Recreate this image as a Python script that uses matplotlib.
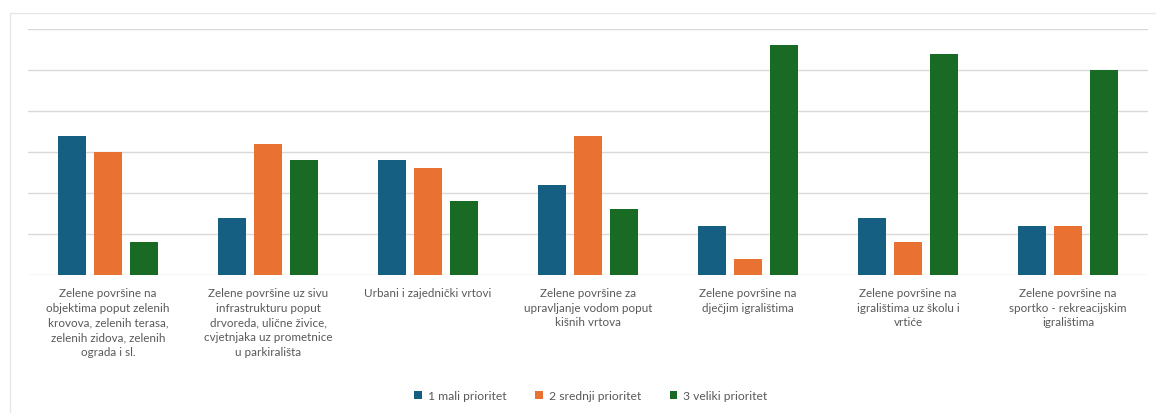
"""Priority ratings of green-space types, grouped bar chart."""
import matplotlib; matplotlib.use("Agg")
import matplotlib.pyplot as plt
import numpy as np
from matplotlib.patches import Rectangle

plt.rcParams["font.family"] = ["Lato", "DejaVu Sans"]

CATEGORIES = [
    "Zelene površine na\nobjektima poput zelenih\nkrovova, zelenih terasa,\nzelenih zidova, zelenih\nograda i sl.",
    "Zelene površine uz sivu\ninfrastrukturu poput\ndrvoreda, ulične živice,\ncvjetnjaka uz prometnice\nu parkirališta",
    "Urbani i zajednički vrtovi",
    "Zelene površine za\nupravljanje vodom poput\nkišnih vrtova",
    "Zelene površine na\ndječjim igralištima",
    "Zelene površine na\nigralištima uz školu i\nvrtiće",
    "Zelene površine na\nsportko - rekreacijskim\nigralištima",
]
SERIES = ["1 mali prioritet", "2 srednji prioritet", "3 veliki prioritet"]
MALI = [17, 7, 14, 11, 6, 7, 6]
SREDNJI = [15, 16, 13, 17, 2, 4, 6]
VELIKI = [4, 14, 9, 8, 28, 27, 25]
COLORS = ["#156082", "#E97132", "#196B24"]
GRID = "#d9d9d9"
FS = 8.4


def main():
    fig = plt.figure(figsize=(11.56, 4.14), dpi=100)
    fig.patches.append(Rectangle((10 / 1156, -0.05), 1.1, 1 - 14 / 414 + 0.05,
                                 transform=fig.transFigure, fill=False,
                                 edgecolor="#e6e6e6", lw=1))
    ax = fig.add_axes([28 / 1156, 1 - 276 / 414, 1120 / 1156, 246 / 414])

    x = np.arange(len(CATEGORIES))
    w, step = 0.175, 0.222
    for i, (vals, name) in enumerate(zip([MALI, SREDNJI, VELIKI], SERIES)):
        ax.bar(x + (i - 1) * step, vals, width=w, color=COLORS[i], label=name, zorder=3)

    ax.set_xlim(-0.5, len(CATEGORIES) - 0.5)
    ax.set_ylim(0, 30)
    ax.set_yticks(range(0, 31, 5))
    ax.yaxis.grid(True, color=GRID, lw=1, zorder=0)
    ax.tick_params(axis="y", length=0, labelleft=False)
    for s in ax.spines.values():
        s.set_visible(False)
    ax.set_xticks([])
    for xi, lab in zip(x, CATEGORIES):
        ax.text(xi, -0.05, lab, transform=ax.get_xaxis_transform(), ha="center",
                va="top", fontsize=FS, color="#595959", linespacing=1.4)

    fig.legend(loc="center", bbox_to_anchor=(591 / 1156, 1 - 397 / 414), ncol=3,
               frameon=False, fontsize=FS + 0.3, labelcolor="#595959", handlelength=0.6,
               handleheight=0.6, handletextpad=0.5, columnspacing=2.4)

    fig.savefig("out.png", dpi=100)
    plt.close(fig)


if __name__ == "__main__":
    main()
